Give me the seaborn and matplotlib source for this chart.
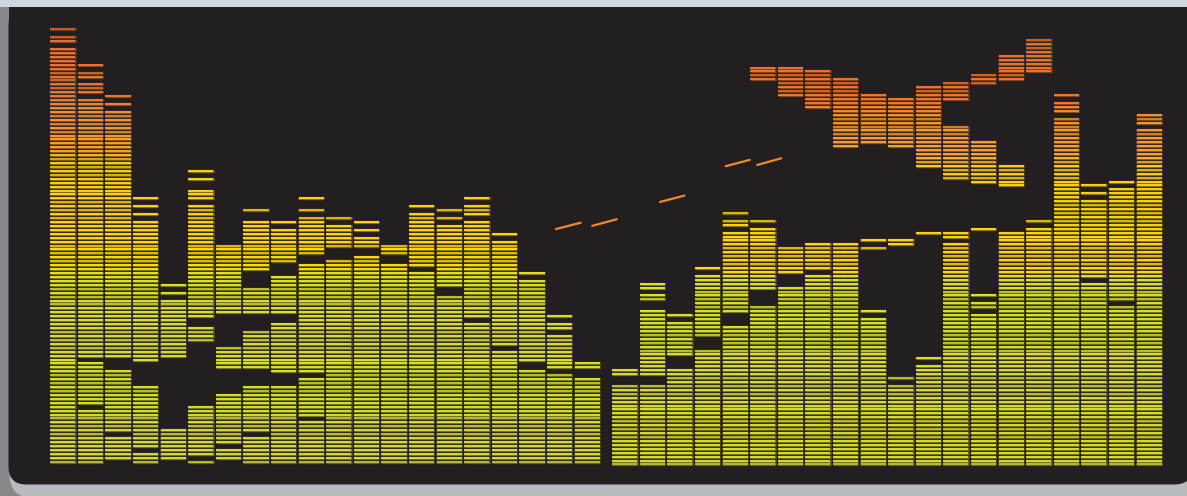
import matplotlib
matplotlib.use("Agg")
import matplotlib.pyplot as plt
from matplotlib.patches import FancyBboxPatch, Rectangle
from matplotlib.colors import LinearSegmentedColormap, to_rgb
import numpy as np
import pandas as pd
import seaborn as sns

# lit stripe runs (inclusive level ranges) for each column, left block
left_runs = [
    [(0, 105), (107, 108), (110, 110)],
    [(0, 13), (15, 25), (27, 92), (94, 96), (98, 99), (101, 101)],
    [(1, 6), (8, 23), (27, 89), (91, 91), (93, 93)],
    [(0, 2), (4, 19), (26, 61), (63, 63), (65, 65), (67, 67)],
    [(1, 8), (27, 41), (43, 43), (45, 45)],
    [(0, 0), (2, 14), (31, 34), (37, 65), (67, 69), (72, 72), (74, 74)],
    [(1, 3), (5, 17), (24, 29), (38, 55)],
    [(0, 6), (8, 19), (24, 33), (38, 44), (49, 61), (64, 64)],
    [(0, 19), (23, 35), (38, 47), (51, 59), (61, 61)],
    [(0, 10), (12, 21), (23, 50), (53, 62), (64, 64), (67, 67)],
    [(0, 51), (55, 60), (62, 62)],
    [(0, 52), (55, 57), (59, 59), (61, 61)],
    [(0, 50), (53, 55)],
    [(0, 48), (50, 63), (65, 65)],
    [(0, 42), (45, 60), (62, 62), (64, 64)],
    [(0, 35), (37, 61), (63, 65), (67, 67)],
    [(0, 28), (30, 56), (58, 58)],
    [(0, 23), (26, 46), (48, 48)],
    [(0, 22), (24, 32), (34, 35), (37, 37)],
    [(0, 21), (24, 25)],
]

# right block
right_runs = [
    [(0, 20), (23, 24)],
    [(0, 20), (23, 39), (42, 43), (45, 46)],
    [(0, 24), (28, 36), (38, 38)],
    [(0, 29), (33, 48), (50, 50)],
    [(0, 35), (39, 59), (61, 62), (64, 64)],
    [(0, 40), (45, 60), (62, 62), (98, 101)],
    [(0, 45), (49, 55), (94, 101)],
    [(0, 48), (50, 56), (91, 100)],
    [(0, 56), (81, 98)],
    [(0, 37), (39, 39), (55, 55), (57, 57), (82, 94)],
    [(0, 20), (22, 22), (56, 57), (81, 93)],
    [(0, 25), (27, 27), (59, 59), (76, 96)],
    [(0, 56), (58, 59), (73, 86), (93, 97)],
    [(0, 38), (40, 41), (43, 43), (60, 60), (72, 82), (97, 99)],
    [(0, 59), (71, 76), (98, 104)],
    [(0, 60), (62, 62), (100, 108)],
    [(0, 88), (90, 92), (94, 94)],
    [(0, 46), (48, 67), (69, 69), (71, 71)],
    [(0, 40), (42, 70), (72, 72)],
    [(0, 85), (87, 89)],
]

# floating orange dashes (column units, stripe levels)
dash_x0 = [17.87, 19.18, 21.64, 24.02, 25.16]
dash_x1 = [18.76, 20.07, 22.52, 24.89, 26.03]
dash_y0 = [59.2, 60.0, 66.1, 75.2, 75.5]
dash_y1 = [60.8, 61.7, 67.7, 76.8, 77.2]

# colour by height
level_stops = [0, 47, 49.5, 76, 79, 89, 92.5, 111]
stop_colors = ["#d2d82c", "#dadf2c", "#ffd808", "#fccb12", "#f6a22a",
               "#f3922a", "#ee762a", "#ea6c2a"]

PANEL = "#231f20"

sns.set_theme(style="dark", rc={"axes.facecolor": PANEL})

rows = []
for block, runs, x_start, shift in ((0, left_runs, 0.0, 0.0),
                                    (1, right_runs, 20.36, -0.71)):
    for i, col in enumerate(runs):
        for lo, hi in col:
            for lv in range(lo, hi + 1):
                rows.append((block * 20 + i, x_start + i, lv, lv + shift))
df = pd.DataFrame(rows, columns=["col", "x", "level", "y"])

cmap = LinearSegmentedColormap.from_list(
    "eq", [(s / level_stops[-1], c) for s, c in zip(level_stops, stop_colors)])
base = cmap(df["level"].to_numpy() / level_stops[-1])[:, :3]
# row texture: a few rows print slightly duller
dim = np.where(((df["level"] * 5) % 11) < 3, 0.86, 1.0)
core = np.clip(base * dim[:, None], 0, 1)
bg = np.array(to_rgb(PANEL))
edge = core * 0.45 + bg * 0.55

fig = plt.figure(figsize=(11.87, 4.96), dpi=100)
fig.patch.set_facecolor("#86888c")

back = fig.add_axes([0, 0, 1, 1])
back.set_xlim(0, 1187)
back.set_ylim(496, 0)
back.axis("off")
back.add_patch(FancyBboxPatch((9.5, -30), 1210, 528, boxstyle="round,pad=0,rounding_size=24",
                              fc="#b9babe", ec="none"))
back.add_patch(Rectangle((0, 0), 1187, 7, fc="#cdd9e2", ec="none"))
back.add_patch(FancyBboxPatch((8.5, 7), 1184, 477.5, boxstyle="round,pad=0,rounding_size=18",
                              fc=PANEL, ec="none"))
back.add_patch(Rectangle((8.5, 7), 40, 40, fc=PANEL, ec="none"))
back.add_patch(Rectangle((1140, 7), 60, 40, fc=PANEL, ec="none"))

ax = fig.add_axes([0, 0, 1, 1])
ax.patch.set_alpha(0)
half = 0.464
ax.hlines(df["y"], df["x"] - half, df["x"] + half, colors=edge, linewidth=2.3,
          capstyle="butt")
ax.hlines(df["y"], df["x"] - half + 0.01, df["x"] + half - 0.01, colors=core,
          linewidth=1.45, capstyle="butt")

dash = pd.DataFrame({
    "x": dash_x0 + dash_x1,
    "y": dash_y0 + dash_y1,
    "seg": list(range(5)) * 2,
})
sns.lineplot(data=dash, x="x", y="y", units="seg", estimator=None, sort=False,
             color="#f0892a", linewidth=1.6, ax=ax)

ax.set_xlim(-2.2754, 40.732)
ax.set_ylim(-8.728, 117.48)
ax.axis("off")

fig.savefig("out.png", dpi=100)
